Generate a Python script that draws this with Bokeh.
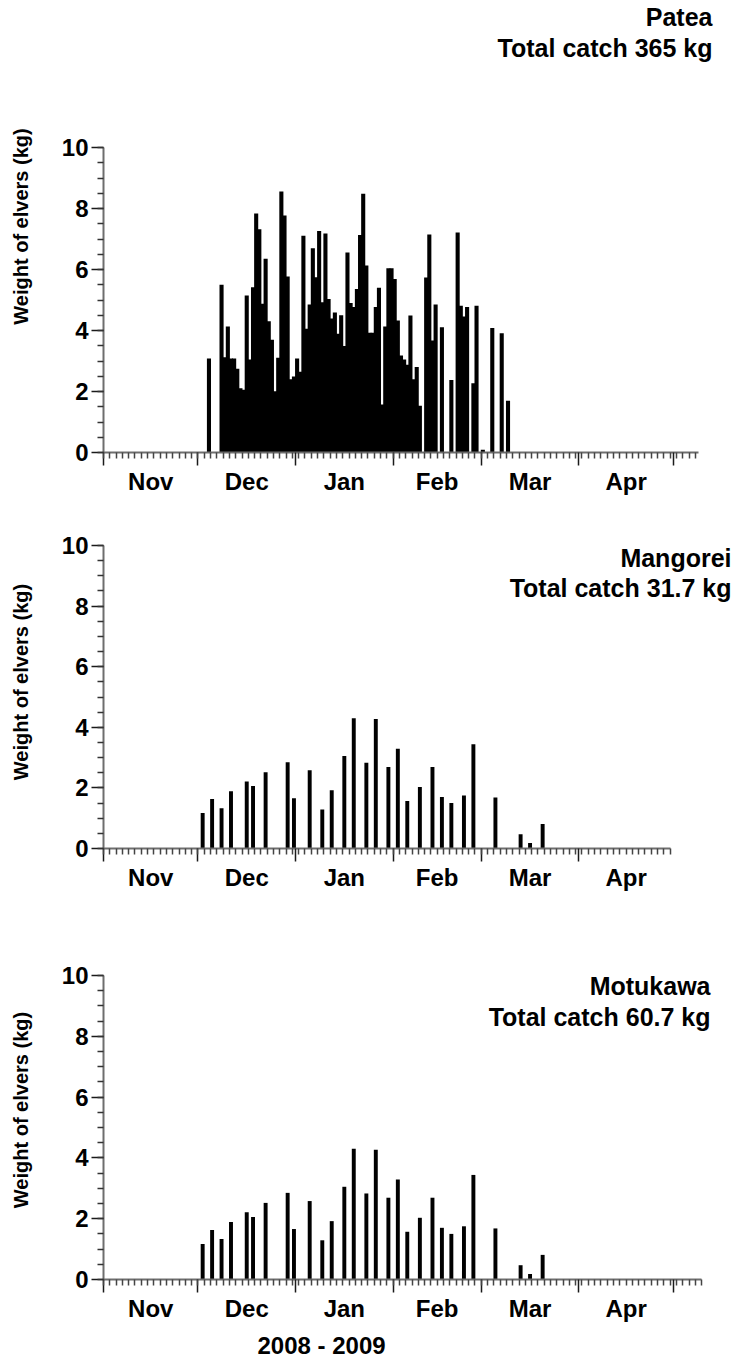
from bokeh.plotting import figure
from bokeh.models import (LinearAxis, FixedTicker, Range1d,
                          ColumnDataSource, Label, Title)
from bokeh.layouts import column
from bokeh.embed import file_html
from bokeh.resources import INLINE

FONT = "Liberation Sans"

# Season calendar (day 0 = 1 November 2008)
month_names = ["Nov", "Dec", "Jan", "Feb", "Mar", "Apr"]
month_lengths = [30, 31, 31, 28, 31, 30]
season_label = "2008 - 2009"
y_label = "Weight of elvers (kg)"
y_ticks = [0, 2, 4, 6, 8, 10]

# Patea: daily catch (kg) by day of season
patea_days = [33,
              37, 38, 39, 40, 41, 42, 43, 44, 45, 46,
              47, 48, 49, 50, 51, 52, 53, 54, 55, 56,
              57, 58, 59, 60, 61, 62, 63, 64, 65, 66,
              67, 68, 69, 70, 71, 72, 73, 74, 75, 76,
              77, 78, 79, 80, 81, 82, 83, 84, 85, 86,
              87, 88, 89, 90, 91, 92, 93, 94, 95, 96,
              97, 98, 99, 100,
              102, 103, 104, 105, 107, 110, 112, 113, 114, 115,
              117, 118, 120, 123, 126, 128]
patea_kg = [3.08,
            5.50, 3.12, 4.13, 3.08, 3.08, 2.75, 2.11, 2.06, 5.15, 3.05,
            5.42, 7.84, 7.32, 4.88, 6.35, 4.30, 3.70, 2.01, 3.11, 8.56,
            7.77, 5.77, 2.40, 2.49, 3.08, 2.65, 7.11, 4.06, 4.85, 6.70,
            5.75, 7.26, 4.93, 7.18, 5.03, 4.39, 4.59, 3.89, 4.50, 3.49,
            6.56, 4.90, 4.77, 5.36, 7.13, 8.48, 6.13, 3.93, 3.93, 4.77,
            5.40, 1.57, 4.13, 6.04, 6.04, 5.69, 4.33, 3.18, 3.05, 2.88,
            4.49, 2.40, 2.80, 1.53,
            5.74, 7.15, 3.67, 4.85, 4.11, 2.38, 7.21, 4.81, 4.46, 4.77,
            2.27, 4.81, 0.09, 4.08, 3.91, 1.70]

# Mangorei: catch (kg) on sampling days
mangorei_days = [31, 34, 37, 40, 45, 47, 51, 58, 60, 65, 69, 72, 76, 79, 83,
                 86, 90, 93, 96, 100, 104, 107, 110, 114, 117, 124, 132, 135, 139]
mangorei_kg = [1.17, 1.63, 1.33, 1.89, 2.21, 2.06, 2.52, 2.85, 1.66, 2.58,
               1.29, 1.92, 3.05, 4.30, 2.83, 4.27, 2.69, 3.29, 1.57, 2.03,
               2.69, 1.70, 1.50, 1.75, 3.44, 1.68, 0.47, 0.18, 0.81]

# Motukawa: catch (kg) on sampling days
motukawa_days = [31, 34, 37, 40, 45, 47, 51, 58, 60, 65, 69, 72, 76, 79, 83,
                 86, 90, 93, 96, 100, 104, 107, 110, 114, 117, 124, 132, 135, 139]
motukawa_kg = [1.17, 1.63, 1.33, 1.89, 2.21, 2.06, 2.52, 2.85, 1.66, 2.58,
               1.29, 1.92, 3.05, 4.30, 2.83, 4.27, 2.69, 3.29, 1.57, 2.03,
               2.69, 1.70, 1.50, 1.75, 3.44, 1.68, 0.47, 0.18, 0.81]

site_names = ["Patea", "Mangorei", "Motukawa"]
total_labels = ["Total catch 365 kg", "Total catch 31.7 kg", "Total catch 60.7 kg"]

# month boundaries and mid-points on the day axis
month_starts = [0]
for n in month_lengths:
    month_starts.append(month_starts[-1] + n)
month_mids = [(a + b) / 2 for a, b in zip(month_starts[:-1], month_starts[1:])]

W = 737
LEFT = 103            # frame left edge (y axis position)
PX_PER_DAY = 3.148
AXIS_GREY = "#6e6e6e"
TXT = "24px"
TITLE_TXT = "25px"


def bold(obj, prefix, size):
    setattr(obj, prefix + "_text_font", FONT)
    setattr(obj, prefix + "_text_font_style", "bold")
    setattr(obj, prefix + "_text_font_size", size)
    setattr(obj, prefix + "_text_color", "black")


def make_panel(days, kg, bar_width, axis_end, height, y10_px, y0_px,
               site, total, title_pos, ylabel_centre, season=None):
    # frame spans the whole width and reaches the top of the canvas; the
    # axes themselves are limited with `bounds`
    b_bottom = height - y0_px
    px_per_unit = (y0_px - y10_px) / 10.0
    y_end = y0_px / px_per_unit
    x_end = (W - LEFT) / PX_PER_DAY

    p = figure(width=W, height=height,
               x_range=Range1d(0, x_end), y_range=Range1d(0, y_end),
               x_axis_type=None, y_axis_type=None,
               toolbar_location=None, output_backend="svg",
               min_border_left=LEFT, min_border_right=0,
               min_border_top=0, min_border_bottom=b_bottom)
    p.outline_line_color = None
    p.background_fill_color = "white"
    p.border_fill_color = "white"

    src = ColumnDataSource(dict(x=[d + 0.5 for d in days], top=kg))
    p.vbar(x="x", top="top", bottom=0, width=bar_width, source=src,
           fill_color="black", line_color=None)

    # value axis
    minor = [i * 0.5 for i in range(0, 21)]
    yax = LinearAxis(ticker=FixedTicker(ticks=y_ticks, minor_ticks=minor),
                     bounds=(0, 10))
    yax.axis_line_color = AXIS_GREY
    yax.axis_line_width = 2
    yax.major_tick_line_color = "#1a1a1a"
    yax.major_tick_line_width = 1.5
    yax.major_tick_out = 12
    yax.major_tick_in = 0
    yax.minor_tick_line_color = "#333333"
    yax.minor_tick_line_width = 1.5
    yax.minor_tick_out = 6
    yax.minor_tick_in = 0
    bold(yax, "major_label", TXT)
    yax.major_label_standoff = 3
    p.add_layout(yax, "left")

    # axis title, carried by a bare axis so it can sit in the upper part
    ylab = LinearAxis(ticker=FixedTicker(ticks=[], minor_ticks=[]),
                      bounds=(ylabel_centre - 1, ylabel_centre + 1),
                      axis_label=y_label)
    ylab.axis_line_color = None
    ylab.major_tick_line_color = None
    ylab.minor_tick_line_color = None
    ylab.major_tick_out = 0
    ylab.major_tick_in = 0
    ylab.minor_tick_out = 0
    ylab.minor_tick_in = 0
    ylab.major_label_standoff = 0
    bold(ylab, "axis_label", "20px")
    ylab.axis_label_standoff = 27
    p.add_layout(ylab, "left")

    # day axis: month boundaries as long ticks, every second day as short ticks
    xa = LinearAxis(ticker=FixedTicker(ticks=[s for s in month_starts if s <= axis_end],
                                       minor_ticks=list(range(0, axis_end + 1, 2))),
                    bounds=(0, axis_end))
    xa.axis_line_color = AXIS_GREY
    xa.axis_line_width = 2
    xa.major_tick_line_color = "#1a1a1a"
    xa.major_tick_line_width = 1.5
    xa.major_tick_out = 13
    xa.major_tick_in = 0
    xa.minor_tick_line_color = "#444444"
    xa.minor_tick_line_width = 1.5
    xa.minor_tick_out = 6
    xa.minor_tick_in = 0
    xa.major_label_text_font_size = "0px"
    xa.major_label_standoff = 0
    xa.major_label_overrides = {s: "" for s in month_starts}
    p.add_layout(xa, "below")

    # month names centred within each month
    xb = LinearAxis(ticker=FixedTicker(ticks=month_mids, minor_ticks=[]))
    xb.major_label_overrides = {m: name for m, name in zip(month_mids, month_names)}
    xb.axis_line_color = None
    xb.major_tick_line_color = None
    xb.minor_tick_line_color = None
    xb.major_tick_out = 0
    xb.major_tick_in = 0
    xb.minor_tick_out = 0
    xb.minor_tick_in = 0
    bold(xb, "major_label", TXT)
    xb.major_label_standoff = 2
    p.add_layout(xb, "below")

    if season is not None:
        t = Title(text=season, align="left", offset=154, standoff=11)
        t.text_font = FONT
        t.text_font_style = "bold"
        t.text_font_size = TXT
        t.text_color = "black"
        p.add_layout(t, "below")

    (xr, y1, y2) = title_pos
    for txt, yy in ((site, y1), (total, y2)):
        p.add_layout(Label(x=xr, y=yy, x_units="screen", y_units="screen",
                           text=txt, text_align="right", text_baseline="middle",
                           text_font=FONT, text_font_style="bold",
                           text_font_size=TITLE_TXT, text_color="black"))
    return p


p1 = make_panel(patea_days, patea_kg, 1.3, 189, 515, 147, 452,
                site_names[0], total_labels[0], (609, 436, 405), 7.34)
p2 = make_panel(mangorei_days, mangorei_kg, 1.25, 180, 425, 30, 333,
                site_names[1], total_labels[1], (628, 291, 261), 6.6)
p3 = make_panel(motukawa_days, motukawa_kg, 1.25, 190, 425, 35, 339,
                site_names[2], total_labels[2], (607, 294, 263), 6.7,
                season=season_label)

layout = column(p1, p2, p3, spacing=0)

with open("out.html", "w") as f:
    f.write(file_html(layout, INLINE))
